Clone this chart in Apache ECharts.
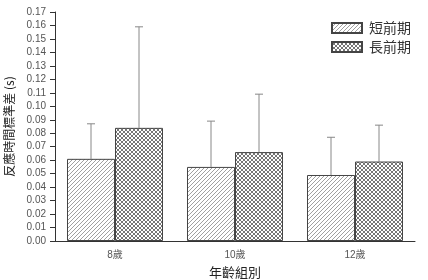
<!DOCTYPE html>
<html><head><meta charset="utf-8">
<script src="https://cdn.jsdelivr.net/npm/echarts@6/dist/echarts.min.js"></script>
<style>html,body{margin:0;padding:0;background:#fff}#c{width:428px;height:280px}</style>
</head><body><div id="c"></div>
<script>
var categories = ['8歲', '10歲', '12歲'];
var seriesNames = ['短前期', '長前期'];
var shortMean = [0.061, 0.055, 0.049];
var longMean = [0.084, 0.066, 0.059];
var shortSD = [0.026, 0.034, 0.028];
var longSD = [0.075, 0.043, 0.027];

function hatch() {
  var c = document.createElement('canvas'); c.width = 4; c.height = 4;
  var g = c.getContext('2d');
  g.fillStyle = '#fff'; g.fillRect(0, 0, 4, 4);
  g.strokeStyle = '#888'; g.lineWidth = 0.8;
  g.beginPath();
  g.moveTo(-1, 5); g.lineTo(5, -1);
  g.moveTo(-1, 1); g.lineTo(1, -1);
  g.moveTo(3, 5); g.lineTo(5, 3);
  g.stroke();
  return c;
}
function cross() {
  var c = document.createElement('canvas'); c.width = 4; c.height = 4;
  var g = c.getContext('2d');
  g.fillStyle = '#fff'; g.fillRect(0, 0, 4, 4);
  g.strokeStyle = '#666'; g.lineWidth = 0.9;
  g.beginPath();
  g.moveTo(0, 0); g.lineTo(4, 4);
  g.moveTo(4, 0); g.lineTo(0, 4);
  g.stroke();
  return c;
}
var font = '"Liberation Sans", "Noto Sans CJK TC", sans-serif';
var cjk = '"Noto Sans CJK TC", sans-serif';

function errSeries(idx, means, sds) {
  var data = means.map(function (m, i) { return [i, m, m + sds[i]]; });
  return {
    type: 'custom', silent: true, z: 1,
    renderItem: function (params, api) {
      var band = api.size([1, 0])[0];
      var bw = band * 0.4;
      var off = idx === 0 ? -bw / 2 : bw / 2;
      var p0 = api.coord([api.value(0), api.value(1)]);
      var p1 = api.coord([api.value(0), api.value(2)]);
      var x = p0[0] + off;
      var st = { stroke: '#888', lineWidth: 1 };
      return { type: 'group', children: [
        { type: 'line', shape: { x1: x, y1: p0[1], x2: x, y2: p1[1] }, style: st },
        { type: 'line', shape: { x1: x - 4, y1: p1[1], x2: x + 4, y2: p1[1] }, style: st }
      ]};
    },
    data: data
  };
}

var chart = echarts.init(document.getElementById('c'));
chart.setOption({
  animation: false,
  grid: { left: 55, right: 13, top: 12, bottom: 39, containLabel: false, outerBoundsMode: 'none' },
  legend: {
    orient: 'vertical', right: 12, top: 16, itemWidth: 30, itemHeight: 10, itemGap: 5,
    icon: 'rect',
    data: seriesNames,
    textStyle: { fontFamily: cjk, fontSize: 14, color: '#333', padding: [0, 0, 0, 2] }
  },
  xAxis: [{
    type: 'category', data: categories,
    name: '年齡組別', nameLocation: 'middle', nameGap: 25,
    nameTextStyle: { fontFamily: cjk, fontSize: 13, color: '#222' },
    axisLine: { lineStyle: { color: '#333' } },
    axisTick: { alignWithLabel: true, length: 4, lineStyle: { color: '#333' } },
    axisLabel: { fontFamily: font, fontSize: 10, color: '#555', margin: 9 }
  }, {
    type: 'category', data: categories, position: 'bottom',
    axisLine: { show: false }, axisLabel: { show: false },
    axisTick: { length: 2, lineStyle: { color: '#555' } }
  }],
  yAxis: {
    type: 'value', min: 0, max: 0.17, interval: 0.01,
    name: '反應時間標準差 (s)', nameLocation: 'middle', nameGap: 37,
    nameTextStyle: { fontFamily: cjk, fontSize: 12, color: '#222' },
    splitLine: { show: false },
    axisLine: { show: true, lineStyle: { color: '#333' } },
    axisTick: { show: true, length: 5, lineStyle: { color: '#333' } },
    axisLabel: { fontFamily: font, fontSize: 10, color: '#555', margin: 9,
      formatter: function (v) { return v.toFixed(2); } }
  },
  series: [
    { name: seriesNames[0], type: 'bar', data: shortMean, barGap: '0%', barCategoryGap: '20%', z: 2,
      itemStyle: { color: { image: hatch(), repeat: 'repeat' }, borderColor: '#444', borderWidth: 1 } },
    { name: seriesNames[1], type: 'bar', data: longMean, barGap: '0%', barCategoryGap: '20%', z: 2,
      itemStyle: { color: { image: cross(), repeat: 'repeat' }, borderColor: '#444', borderWidth: 1 } },
    errSeries(0, shortMean, shortSD),
    errSeries(1, longMean, longSD)
  ]
});
</script></body></html>
